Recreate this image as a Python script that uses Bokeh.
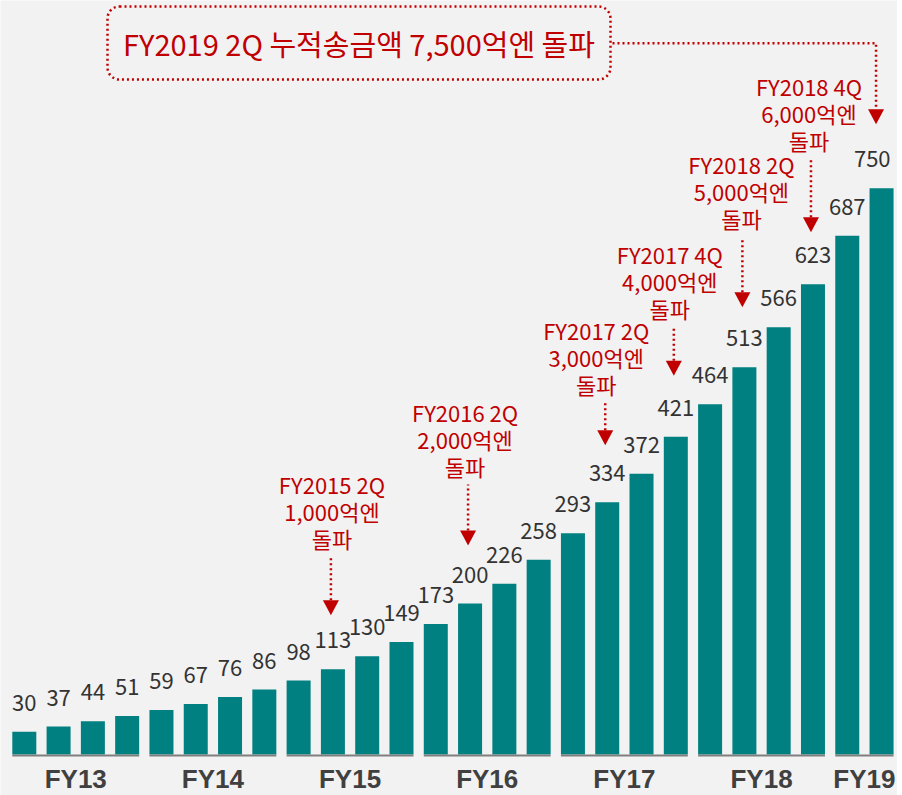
from bokeh.plotting import figure
from bokeh.models import BoxAnnotation
from bokeh.embed import file_html
from bokeh.resources import INLINE
from bokeh.core.properties import value

# ---------------- data ----------------
values = [30, 37, 44, 51, 59, 67, 76, 86, 98, 113, 130, 149, 173, 200, 226, 258,
          293, 334, 372, 421, 464, 513, 566, 623, 687, 750]
fiscal_years = ["FY13", "FY14", "FY15", "FY16", "FY17", "FY18", "FY19"]
bars_per_year = [4, 4, 4, 4, 4, 4, 2]
milestone_bar = [9, 13, 17, 19, 21, 23]
milestone_period = ["FY2015 2Q", "FY2016 2Q", "FY2017 2Q", "FY2017 4Q", "FY2018 2Q", "FY2018 4Q"]
milestone_amount = ["1,000억엔", "2,000억엔", "3,000억엔", "4,000억엔", "5,000억엔", "6,000억엔"]
milestone_word = "돌파"
headline = "FY2019 2Q 누적송금액 7,500억엔 돌파"
headline_bar = 25

# ---------------- layout (pixels) ----------------
W, H = 897, 795
STEP = 34.29          # px per bar slot
X0_PX = 23.8          # px of first bar centre from left
PX_PER_UNIT = 0.755   # px per value unit
BASE_PX = 41          # baseline px from bottom
note_gap_px = [54, 58, 57, 61, 60, 52]      # arrow tip above bar top
note_stem_px = [43, 46, 27, 34, 55, 58]     # dotted stem length
note_text_dx = [1, -3, -9, -4, -1, -2]      # text shift vs arrow

RED = "#c00000"
TEAL = "#008080"
BG = "#f2f2f2"
FONT = value("Noto Sans CJK KR")
AXIS_FONT = value("Liberation Sans")

x_start = -X0_PX / STEP
x_end = x_start + W / STEP
y_start = -BASE_PX / PX_PER_UNIT
y_end = y_start + H / PX_PER_UNIT


def dx(px):
    return px / STEP


def dy(px):
    return px / PX_PER_UNIT


p = figure(width=W, height=H, x_range=(x_start, x_end), y_range=(y_start, y_end),
           x_axis_type=None, y_axis_type=None, output_backend="svg",
           toolbar_location=None, min_border=0)
p.background_fill_color = BG
p.border_fill_color = BG
p.outline_line_color = None
p.grid.visible = False

idx = list(range(len(values)))
labels = [str(v) for v in values]

# bars
p.vbar(x=idx, top=values, bottom=0, width=0.70, fill_color=TEAL, line_color=None)

# value labels (last one right-aligned to stay inside the picture)
p.text(x=idx[:-1], y=values[:-1], text=labels[:-1], y_offset=-29,
       text_align="center", text_baseline="middle", text_font=FONT,
       text_font_size="22px", text_color="#333333")
p.text(x=[idx[-1] + 0.35 - dx(3)], y=[values[-1]], text=[labels[-1]], y_offset=-29,
       text_align="right", text_baseline="middle", text_font=FONT,
       text_font_size="22px", text_color="#333333")

# group baselines and fiscal-year labels
start = 0
gx0, gx1, gcx = [], [], []
for n in bars_per_year:
    first, last = start, start + n - 1
    gx0.append(first - 0.35)
    gx1.append(last + 0.35)
    gcx.append((first + last) / 2)
    start += n
p.segment(x0=gx0, y0=[-dy(1)] * len(gx0), x1=gx1, y1=[-dy(1)] * len(gx0),
          line_color="#7f7f7f", line_width=2)
p.text(x=gcx, y=[0] * len(gcx), text=fiscal_years, y_offset=24,
       text_align="center", text_baseline="middle", text_font=AXIS_FONT,
       text_font_size="26px", text_font_style="bold", text_color="#404040")

# milestone annotations
TRI_W, TRI_H = 16, 15
for k, bi in enumerate(milestone_bar):
    ax = bi - dx(2)
    tip = values[bi] + dy(note_gap_px[k])
    tri_top = tip + dy(TRI_H)
    p.patch(x=[ax - dx(TRI_W / 2), ax + dx(TRI_W / 2), ax],
            y=[tri_top, tri_top, tip], fill_color=RED, line_color=None)
    stem_top = tri_top + dy(note_stem_px[k])
    p.line(x=[ax, ax], y=[tri_top, stem_top], line_color=RED, line_width=2.5,
           line_dash="2 3")
    tx = ax + dx(note_text_dx[k])
    lines = [milestone_period[k], milestone_amount[k], milestone_word]
    ys = [stem_top + dy(19 + 27 * (2 - j)) for j in range(3)]
    p.text(x=[tx] * 3, y=ys, text=lines, text_align="center",
           text_baseline="middle", text_font=FONT, text_font_size="22px",
           text_color=RED)

# headline box
box_left = x_start + dx(107)
box_right = x_start + dx(610)
box_top = y_end - dy(6)
box_bottom = y_end - dy(79)
p.add_layout(BoxAnnotation(left=box_left, right=box_right, top=box_top, bottom=box_bottom,
                           fill_color=None, fill_alpha=0, line_color=RED, line_alpha=1.0,
                           line_width=2.5, line_dash="2 3", border_radius=12))
p.text(x=[x_start + dx(358.5)], y=[y_end - dy(42)], text=[headline],
       text_align="center", text_baseline="middle", text_font=FONT,
       text_font_size="29px", text_color=RED)

# headline connector
hx = headline_bar - dx(5.5)
htip = values[headline_bar] + dy(64)
htri_top = htip + dy(TRI_H)
hy = y_end - dy(42.7)
p.line(x=[box_right + dx(2), hx, hx], y=[hy, hy, htri_top], line_color=RED,
       line_width=2.5, line_dash="2 3")
p.patch(x=[hx - dx(TRI_W / 2), hx + dx(TRI_W / 2), hx],
        y=[htri_top, htri_top, htip], fill_color=RED, line_color=None)

open("out.html", "w").write(file_html(p, INLINE))
